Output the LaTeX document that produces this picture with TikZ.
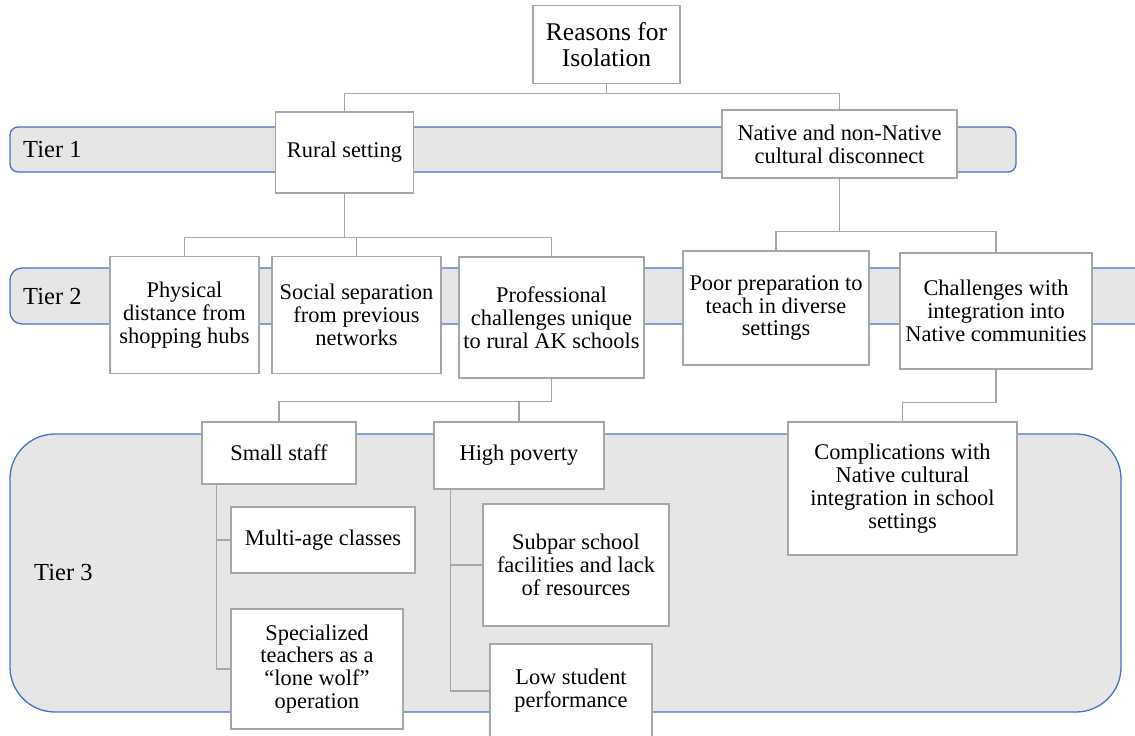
\documentclass[tikz,border=0pt]{standalone}
\usepackage{fontspec}
\setmainfont{Liberation Serif}
\definecolor{barfill}{HTML}{E6E6E6}
\definecolor{barline}{HTML}{4472C4}
\definecolor{boxline}{HTML}{A6A6A6}
\pgfdeclarelayer{bars}
\pgfdeclarelayer{links}
\pgfsetlayers{bars,links,main}
\tikzset{
  bar/.style={fill=barfill, draw=barline, line width=1.3pt},
  box/.style={draw=boxline, fill=white, line width=1.3pt, align=center, inner sep=0pt,
    font=\rmfamily\fontsize{22.4}{22.8}\selectfont},
  link/.style={draw=boxline, line width=1.3pt},
  tier/.style={anchor=west, inner sep=0pt, font=\rmfamily\fontsize{24.5}{26}\selectfont}
}
\begin{document}
\begin{tikzpicture}[x=1pt,y=-1pt]
\clip (0,0) rectangle (1135,736);
% tier bars
\begin{pgfonlayer}{bars}
\draw[bar, rounded corners=8] (10,127) rectangle (1016,172);
\draw[bar, rounded corners=12] (10,268) rectangle (1170,324);
\draw[bar, rounded corners=45] (10,434) rectangle (1121,712);
\end{pgfonlayer}
\node[tier] (t1) at (23,150) {Tier 1};
\node[tier] (t2) at (23,297) {Tier 2};
\node[tier] (t3) at (34,573) {Tier 3};
% boxes
\node[box, minimum width=147, minimum height=78, font=\rmfamily\fontsize{25.5}{26}\selectfont] (root) at (606.5,44.5) {Reasons for\\Isolation};
\node[box, minimum width=138, minimum height=81] (rural) at (344.5,152.5) {Rural setting};
\node[box, minimum width=235, minimum height=68] (native) at (839.5,144) {Native and non-Native\\cultural disconnect};
\node[box, minimum width=149, minimum height=117] (phys) at (184.5,315) {Physical\\distance from\\shopping hubs};
\node[box, minimum width=169, minimum height=117] (social) at (356.5,315) {Social separation\\from previous\\networks};
\node[box, minimum width=185, minimum height=121] (prof) at (551.5,317.5) {Professional\\challenges unique\\to rural AK schools};
\node[box, minimum width=186, minimum height=114] (poor) at (776,308) {Poor preparation to\\teach in diverse\\settings};
\node[box, minimum width=192, minimum height=116] (chall) at (996,311) {Challenges with\\integration into\\Native communities};
\node[box, minimum width=229, minimum height=133] (compl) at (902.5,488.5) {Complications with\\Native cultural\\integration in school\\settings};
\node[box, minimum width=154, minimum height=62] (small) at (279,453) {Small staff};
\node[box, minimum width=170, minimum height=67] (high) at (519,455.5) {High poverty};
\node[box, minimum width=184, minimum height=66] (multi) at (323,540) {Multi-age classes};
\node[box, minimum width=172, minimum height=120] (spec) at (317,669) {Specialized\\teachers as a\\“lone wolf”\\operation};
\node[box, minimum width=186, minimum height=122] (subpar) at (576,565) {Subpar school\\facilities and lack\\of resources};
\node[box, minimum width=162, minimum height=94] (low) at (571,691) {Low student\\performance};
% connectors
\begin{pgfonlayer}{links}
\draw[link] (root.south) -- ++(0,9) -| (rural.north);
\draw[link] (root.south) -- ++(0,9) -| (native.north);
\draw[link] (rural.south) -- ++(0,44) -| (phys.north);
\draw[link] (rural.south) -- ++(0,44) -| (social.north);
\draw[link] (rural.south) -- ++(0,44) -| (prof.north);
\draw[link] (native.south) -- ++(0,53) -| (poor.north);
\draw[link] (native.south) -- ++(0,53) -| (chall.north);
\draw[link] (chall.south) -- ++(0,33) -| (compl.north);
\draw[link] (prof.south) -- ++(0,23) -| (small.north);
\draw[link] (prof.south) -- ++(0,23) -| (high.north);
\draw[link] ([xshift=15]small.south west) |- (multi.west);
\draw[link] ([xshift=15]small.south west) |- (spec.west);
\draw[link] ([xshift=17]high.south west) |- (subpar.west);
\draw[link] ([xshift=17]high.south west) |- (low.west);
\end{pgfonlayer}
\end{tikzpicture}
\end{document}
